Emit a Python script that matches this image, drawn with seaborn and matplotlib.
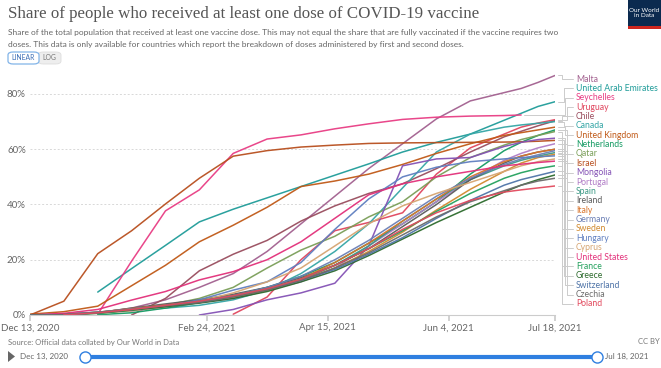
import numpy as np
import pandas as pd
import matplotlib
matplotlib.use("Agg")
import matplotlib.pyplot as plt
import matplotlib.dates as mdates
from matplotlib.lines import Line2D
from matplotlib.patches import FancyBboxPatch, Rectangle, Polygon
import seaborn as sns

nan = np.nan

# days since Dec 13, 2020
days = [0, 14, 28, 42, 56, 70, 84, 98, 112, 126, 140, 154, 168, 182, 196, 203, 210, 217]

malta = [nan, 0.1, 0.8, 2.5, 5.5, 10, 15, 23, 33, 43, 53, 62, 71, 77.5, 80.5, 82, 84.2, 86.7]
uae = [nan, nan, 8.3, 16.8, 25.2, 33.7, 38.3, 42.4, 46.5, 50.6, 54.7, 59, 62.5, 65.5, 70.5, 73, 75.5, 77.2]
seychelles = [nan, nan, 0.3, 19.5, 37.7, 45.3, 58.5, 63.7, 65.2, 67.4, 69.2, 70.8, 71.6, 72.0, 72.2, 72.4, nan, nan]
uruguay = [nan, nan, nan, nan, nan, nan, 0.3, 6.5, 20, 30.5, 33.5, 37, 51, 60.5, 65.5, 68, 69.5, 70.7]
chile = [nan, nan, nan, 0, 6, 16, 22, 27, 34, 39.5, 44, 47.5, 53, 59, 64.5, 66.5, 68.5, 70.3]
canada = [0, 0.3, 1.0, 1.8, 2.5, 3.5, 5.5, 9, 15, 23, 33, 46, 59, 65.5, 68, 68.8, 69.4, 70]
uk = [0.3, 1.2, 3.2, 10.6, 18, 26.5, 32.5, 39, 46.5, 48.5, 51, 54.5, 58.5, 62, 65, 66, 67, 68]
netherlands = [nan, nan, 0.1, 0.8, 2.5, 4.5, 7, 10, 14, 19, 26, 33, 41, 51, 59.5, 62.5, 65, 67]
qatar = [nan, 0.2, 1.0, 2.0, 3.5, 6, 10, 17, 23.5, 28.5, 35.5, 41, 50, 57, 61.5, 63.5, 65, 66.4]
israel = [0, 5, 22.2, 30.5, 40.2, 49.5, 57.5, 59.5, 60.8, 61.5, 62.1, 62.3, 62.4, 62.5, 62.6, 62.7, 62.9, 63.2]
mongolia = [nan, nan, nan, nan, nan, 0, 2, 5.5, 8, 11.5, 25, 54, 56.5, 57, 61, 62.5, 63.5, 64]
portugal = [0, 0.2, 0.9, 1.8, 3, 4.5, 6, 9, 12, 17, 25, 33, 41, 49, 56, 58.5, 60.5, 62]
spain = [0, 0.3, 1.0, 2.2, 3.5, 5, 6.8, 9, 12.5, 18, 25, 34, 42, 49, 54, 56, 57.5, 58.8]
ireland = [0, 0.1, 0.8, 2.5, 4, 5.5, 7.5, 10, 13.5, 18, 24, 32, 40, 49, 55, 57.5, 59, 60]
italy = [0, 0.2, 1.0, 2.3, 3.6, 5, 6.5, 9, 13, 19, 26, 34, 42, 50, 55.5, 57.5, 59, 60]
germany = [0, 0.3, 1.0, 2.2, 3.3, 4.8, 7, 10, 14, 20, 27, 35, 43, 49.5, 54.5, 56.5, 58, 59.5]
sweden = [0, 0.1, 0.8, 2.0, 3.3, 5, 7, 9.5, 12.5, 17, 23, 30, 38, 45.5, 52, 55, 57, 58.2]
hungary = [0, 0.1, 0.8, 1.5, 3, 5.5, 9, 12, 19, 31, 42, 50, 53.5, 55.5, 56.5, 57, 57.3, 57.6]
cyprus = [nan, 0.1, 0.6, 1.5, 3, 5, 8, 12, 17, 25, 33, 39.5, 44, 48, 52, 54, 55.5, 56.5]
usa = [0, 0.6, 2.0, 5.4, 8.5, 12.7, 15.7, 20, 26.5, 35, 43.5, 47.5, 50, 52, 54, 54.6, 55.2, 55.7]
france = [0, 0.05, 0.6, 1.8, 3.2, 5, 7, 9.5, 13, 18, 24, 30.5, 37.5, 44, 49.5, 51.5, 53, 54]
greece = [0, 0.1, 0.7, 1.8, 3, 4.3, 6, 8.5, 12, 16, 21.5, 27.5, 33.5, 39, 44.5, 47, 49, 50.7]
switzerland = [0, 0.1, 0.8, 2.0, 3.5, 5, 7, 9.5, 12.5, 16.5, 22, 28, 35, 41.5, 47, 49, 50.5, 52]
czechia = [0, 0.1, 0.9, 2.0, 3.3, 4.5, 6.5, 9, 12.5, 17, 22.5, 29, 35.5, 41, 45, 47, 48.5, 49.5]
poland = [nan, 0.05, 0.8, 2.0, 3.5, 5, 7, 9.5, 13, 18, 24, 31, 37, 41.5, 44.5, 45.3, 46, 46.7]

countries = ["Malta", "United Arab Emirates", "Seychelles", "Uruguay", "Chile", "Canada",
             "United Kingdom", "Netherlands", "Qatar", "Israel", "Mongolia", "Portugal",
             "Spain", "Ireland", "Italy", "Germany", "Sweden", "Hungary", "Cyprus",
             "United States", "France", "Greece", "Switzerland", "Czechia", "Poland"]
values = [malta, uae, seychelles, uruguay, chile, canada, uk, netherlands, qatar, israel,
          mongolia, portugal, spain, ireland, italy, germany, sweden, hungary, cyprus,
          usa, france, greece, switzerland, czechia, poland]
colors = ["#a2608f", "#1f9c99", "#e83d84", "#e0455d", "#994d5e", "#35a6a6",
          "#c05917", "#159b63", "#7a9e58", "#b84f1e", "#8452b5", "#b07cc6",
          "#3d9a86", "#5b5b5b", "#d9742b", "#6b7fb5", "#d18a2f", "#5f7fc0", "#d6a572",
          "#e2307a", "#24a15e", "#2d6b2d", "#4f74a8", "#6b6b6b", "#e24a5e"]

tick_dates = ["2020-12-13", "2021-02-24", "2021-04-15", "2021-06-04", "2021-07-18"]
tick_labels = ["Dec 13, 2020", "Feb 24, 2021", "Apr 15, 2021", "Jun 4, 2021", "Jul 18, 2021"]
y_ticks = [0, 20, 40, 60, 80]

start = pd.Timestamp("2020-12-13")
dates = start + pd.to_timedelta(days, unit="D")

rows = []
for name, vals in zip(countries, values):
    for d, v in zip(dates, vals):
        rows.append({"date": d, "share": v, "country": name})
df = pd.DataFrame(rows).dropna()
palette = dict(zip(countries, colors))

W, H = 661, 368
sns.set_theme(style="white")
plt.rcParams["font.family"] = ["Lato", "DejaVu Sans"]

fig = plt.figure(figsize=(W / 100, H / 100), dpi=100)


def fx(px):
    return px / W


def fy(py):
    return 1 - py / H


ymax = 88.5
ax_left, ax_right, ax_bottom = 30, 555, 315
ax_top = ax_bottom - ymax * (221 / 80)
ax = fig.add_axes([fx(ax_left), fy(ax_bottom), (ax_right - ax_left) / W, (ax_bottom - ax_top) / H])

sns.lineplot(data=df, x="date", y="share", hue="country", palette=palette,
             hue_order=countries, estimator=None, errorbar=None, legend=False,
             linewidth=1.1, alpha=0.95, ax=ax)

ax.set_xlim(pd.Timestamp(tick_dates[0]), pd.Timestamp(tick_dates[-1]))
ax.set_ylim(0, ymax)
ax.set_xticks([pd.Timestamp(t) for t in tick_dates])
ax.set_xticklabels(tick_labels, fontsize=7, color="#666")
ax.set_yticks(y_ticks)
ax.set_yticklabels([f"{t}%" for t in y_ticks], fontsize=7, color="#666")
ax.set_xlabel("")
ax.set_ylabel("")
for s in ["top", "right", "left"]:
    ax.spines[s].set_visible(False)
ax.spines["bottom"].set_color("#ccc")
ax.spines["bottom"].set_linewidth(0.8)
ax.tick_params(axis="x", length=4, color="#ccc", pad=2, direction="out", bottom=True)
ax.tick_params(axis="y", length=0, pad=3)
for t in y_ticks[1:]:
    ax.axhline(t, color="#d8d8d8", lw=0.7, ls=(0, (2, 2)), zorder=0)

# header
fig.text(fx(8), fy(14), "Share of people who received at least one dose of COVID-19 vaccine",
         family=["Liberation Serif", "DejaVu Serif"], fontsize=12.2, color="#555", va="center")
fig.text(fx(8), fy(32), "Share of the total population that received at least one vaccine dose. "
         "This may not equal the share that are fully vaccinated if the vaccine requires two",
         fontsize=6.0, color="#666", va="center")
fig.text(fx(8), fy(44), "doses. This data is only available for countries which report the breakdown "
         "of doses administered by first and second doses.",
         fontsize=6.0, color="#666", va="center")

fig.patches.append(FancyBboxPatch((fx(38), fy(64)), fx(23), 12 / H,
                                  boxstyle="round,pad=0,rounding_size=0.008",
                                  transform=fig.transFigure, facecolor="#eeeeee",
                                  edgecolor="#dddddd", lw=0.6))
fig.patches.append(FancyBboxPatch((fx(8), fy(64)), fx(31), 12 / H,
                                  boxstyle="round,pad=0,rounding_size=0.008",
                                  transform=fig.transFigure, facecolor="white",
                                  edgecolor="#82b4e8", lw=0.9))
fig.text(fx(23.5), fy(58), "LINEAR", fontsize=4.9, color="#3a6db5", ha="center", va="center")
fig.text(fx(49.5), fy(58), "LOG", fontsize=4.9, color="#777", ha="center", va="center")

# logo
fig.patches.append(Rectangle((fx(628), fy(29)), fx(33), 29 / H, transform=fig.transFigure,
                             facecolor="#0b2a4f", edgecolor="none"))
fig.patches.append(Rectangle((fx(628), fy(29)), fx(33), 3 / H, transform=fig.transFigure,
                             facecolor="#ce261e", edgecolor="none"))
fig.text(fx(644.5), fy(13), "Our World\nin Data", fontsize=4.6, color="white",
         ha="center", va="center", linespacing=1.1)

# labels with connectors
label_x = 576
for i, (name, col) in enumerate(zip(countries, colors)):
    sub = df[df.country == name]
    last = sub.iloc[-1]
    ex, ey = ax.transData.transform((mdates.date2num(last["date"]), last["share"]))
    ly = 79 + i * 9.37
    ly_disp = (1 - ly / H) * H
    vx = 562 + (i % 4) * 1.5
    xs = [ex + 3, vx, vx, label_x - 3]
    ys = [ey, ey, ly_disp, ly_disp]
    fig.add_artist(Line2D([x / W for x in xs], [y / H for y in ys],
                          transform=fig.transFigure, color="#cccccc", lw=0.7))
    fig.text(fx(label_x), fy(ly), name, fontsize=6.2, color=col, va="center")

# footer
fig.text(fx(8), fy(342), "Source: Official data collated by Our World in Data",
         fontsize=5.5, color="#777", va="center")
fig.text(fx(660), fy(342), "CC BY", fontsize=5.5, color="#777", va="center", ha="right")

fig.patches.append(Polygon([(fx(8), fy(351)), (fx(8), fy(362)), (fx(15), fy(356.5))],
                           closed=True, transform=fig.transFigure, facecolor="#666",
                           edgecolor="none"))
fig.text(fx(20), fy(356.5), "Dec 13, 2020", fontsize=5.8, color="#666", va="center")
fig.add_artist(Line2D([fx(85), fx(597)], [fy(356.5), fy(356.5)], transform=fig.transFigure,
                      color="#2f7fe0", lw=3, solid_capstyle="butt"))
for cx in [85, 597]:
    fig.add_artist(Line2D([fx(cx)], [fy(356.5)], transform=fig.transFigure, marker="o",
                          markersize=8, markerfacecolor="white", markeredgecolor="#2f7fe0",
                          markeredgewidth=1, linestyle="none"))
fig.text(fx(605), fy(356.5), "Jul 18, 2021", fontsize=5.8, color="#666", va="center")

fig.savefig("out.png", dpi=100)
